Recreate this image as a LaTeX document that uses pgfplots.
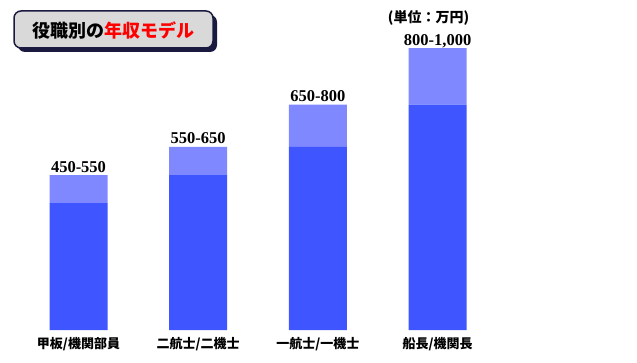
\documentclass[border=0pt]{standalone}
\usepackage{fontspec}
\setmainfont{Liberation Serif}
\newfontfamily\jp{Noto Sans CJK JP}
\usepackage{pgfplots}
\usepackage{pgfplotstable}
\pgfplotsset{compat=1.18}
\definecolor{barlight}{HTML}{7F88FF}
\definecolor{bardark}{HTML}{3F55FF}
\definecolor{navy}{HTML}{1A1A40}
\definecolor{boxgray}{HTML}{D9D9D9}
\definecolor{titlered}{HTML}{FF0000}
\pgfplotstableread{
x low diff high label
0 450 100 550 450-550
1 550 100 650 550-650
2 650 150 800 650-800
3 800 200 1000 800-1,000
}\salary
\pgfplotsset{
  salarybase/.style={
    at={(18.65pt,32pt)}, anchor=south west,
    scale only axis, width=478.8pt, height=310pt,
    xmin=-0.5, xmax=3.5, ymin=0, ymax=1100,
    bar width=58pt,
    axis line style={draw=none},
    major tick length=0pt,
    ytick=\empty,
    clip=false,
  }
}
\begin{document}
\begin{tikzpicture}
\path[use as bounding box] (0pt,0pt) rectangle (637pt,362pt);
% title box
\fill[navy, rounded corners=7pt] (18pt,310pt) rectangle (217pt,347pt);
\draw[navy, fill=boxgray, line width=1.5pt, rounded corners=7pt] (14pt,314pt) rectangle (213pt,351pt);
\node[font=\jp\bfseries\fontsize{18}{18}\selectfont, inner sep=0pt] at (113.5pt,332pt) {役職別の\textcolor{titlered}{年収モデル}};
\node[font=\jp\bfseries\fontsize{14}{14}\selectfont, inner sep=0pt] at (428.5pt,344pt) {(単位：万円)};
\begin{axis}[
  salarybase,
  ybar stacked,
  xtick=data,
  xticklabels={甲板/機関部員, 二航士/二機士, 一航士/一機士, 船長/機関長},
  xticklabel style={font=\jp\bfseries\fontsize{13}{13}\selectfont, yshift=-4pt},
]
\addplot[fill=bardark, draw=none] table[x=x, y=low] {\salary};
\addplot[fill=barlight, draw=none] table[x=x, y=diff] {\salary};
\end{axis}
\begin{axis}[
  salarybase,
  ybar,
  xtick=\empty,
]
\addplot[draw=none, fill=none,
  nodes near coords, point meta=explicit symbolic,
  every node near coord/.style={font=\bfseries\fontsize{16.5}{16.5}\selectfont, anchor=base, yshift=3pt, inner sep=0pt, text=black}
] table[x=x, y=high, meta=label] {\salary};
\end{axis}
\end{tikzpicture}
\end{document}
